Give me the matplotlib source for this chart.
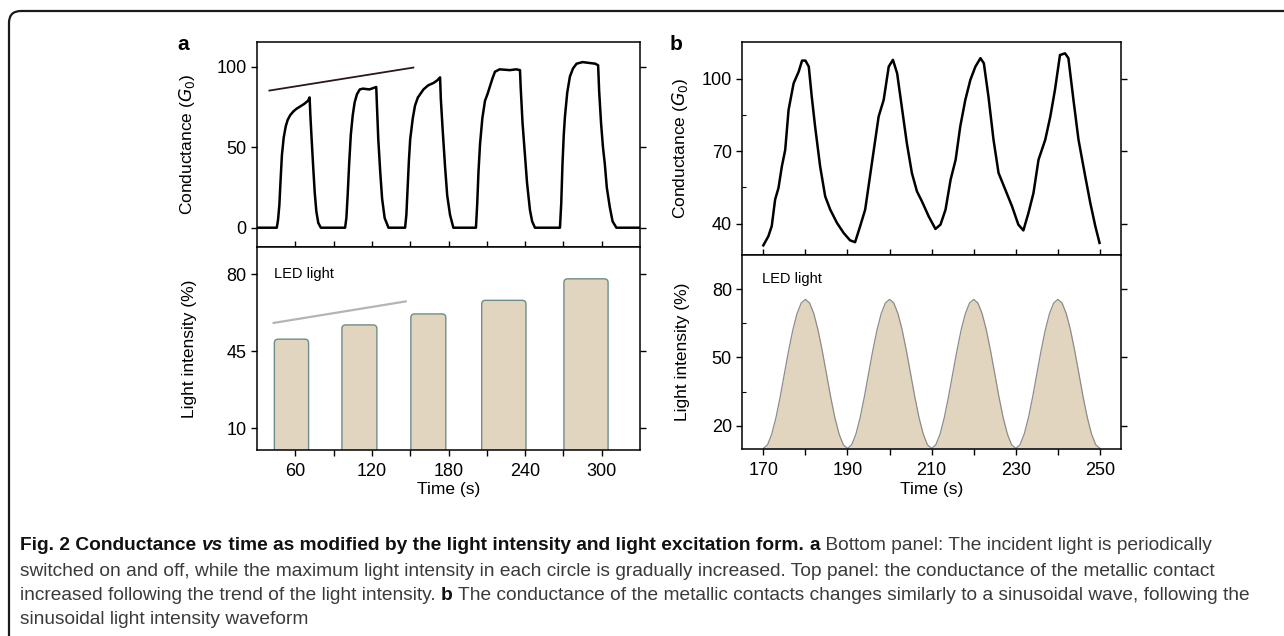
import numpy as np
import matplotlib.pyplot as plt
from matplotlib.patches import FancyBboxPatch, PathPatch
from matplotlib.path import Path
from matplotlib.transforms import IdentityTransform
from matplotlib.ticker import MultipleLocator, FixedLocator

plt.rcParams['font.family'] = ['Liberation Sans', 'DejaVu Sans']

# ---- panel a data ----
# conductance trace (time s, G0)
a_time = [30, 45.5, 46.5, 47.5, 48.5, 49.5, 50.9, 52.5, 54, 56, 58.7, 61, 64, 67, 70, 71.2,
          71.8, 72.8, 74, 75.2, 76.5, 78, 80,
          99, 100, 101, 102.2, 103.5, 105, 106.5, 108.3, 110.5, 113, 118, 123.4,
          124, 125, 126.5, 128, 130, 133,
          146, 147, 148, 149, 150, 152, 153.8, 156, 160.4, 164, 168.2, 171, 173.4,
          174, 175.5, 177.3, 179, 181.2, 183.8,
          201.5, 202.5, 203.5, 204.7, 206.5, 208.6, 210.5, 212.5, 214.5, 216.4, 220, 228, 233, 236,
          236.5, 238, 239.9, 241.5, 243.8, 245.5, 247.7,
          267.3, 268.3, 269.3, 270.3, 271.2, 273, 275.1, 277.5, 280.3, 285, 290, 295, 297.2,
          298, 299.5, 301, 302.4, 304, 306.3, 308.5, 311.5, 330]
a_cond = [0, 0, 5, 14, 30, 45, 56, 63, 67, 70, 72.5, 74, 75.5, 77, 79, 81,
          70, 55, 38, 22, 10, 3, 0,
          0, 6, 20, 40, 58, 70, 78, 83, 86, 86.5, 86, 87.5,
          75, 55, 35, 18, 6, 0,
          0, 8, 25, 42, 55, 68, 76, 81, 86, 88.5, 90, 91.5, 93.5,
          80, 60, 38, 20, 8, 0,
          0, 15, 35, 52, 68, 79, 83, 88, 93, 97, 98.5, 98, 98.5, 98,
          88, 65, 45, 28, 11, 4, 0,
          0, 15, 40, 58, 69, 84, 94, 99, 102, 103, 102.5, 102, 101,
          85, 65, 50, 40, 25, 13, 4, 0, 0]
a_trend_t = [39.7, 152.5]
a_trend_g = [85.3, 99.6]

# LED pulses (start s, end s, intensity %)
bar_start = [43.6, 96.5, 150.5, 206.0, 270.4]
bar_end = [70.4, 123.9, 177.9, 240.7, 305.0]
bar_level = [50.5, 57.0, 62.0, 68.2, 78.0]
led_trend_t = [43, 146.5]
led_trend_i = [57.9, 67.7]

# ---- panel b data ----
b_time = [170, 171.2, 172, 172.8, 173.6, 174.4, 175.2, 176, 177.2, 178.4, 179.2, 180, 180.8,
          181.5, 182.3, 183.5, 184.7, 185.9, 187.5, 189.1, 190.6, 191.8, 193, 194.2, 195.8,
          197.4, 198.6, 199.8, 200.8, 201.8, 203, 204.1, 205.3, 206.5, 207.7, 209.3, 210.9,
          212.1, 213.3, 214.5, 215.7, 216.8, 218, 219.2, 220.4, 221.6, 222.4, 223.5, 224.7,
          225.9, 227.5, 229.1, 230.6, 231.8, 233, 234.2, 235.4, 237, 238.2, 239.3, 240.5,
          241.7, 242.5, 243.7, 244.9, 246.5, 247.7, 248.9, 249.9]
b_cond = [31, 34.8, 39, 50, 54.8, 63.7, 70.6, 87.2, 98.2, 103, 107.6, 107.6, 105.1,
          92.7, 80.3, 63.7, 51.3, 45.8, 40.3, 36.1, 33.1, 32.3, 38.9, 45.8, 65.1,
          84.4, 91.3, 105.1, 107.9, 102.3, 87.2, 73.4, 61, 53.4, 49.2, 43, 37.8,
          39.6, 45.8, 58.2, 66.5, 80.3, 91.3, 99.6, 105.1, 108.6, 106.5, 92.7, 74.8,
          61, 54.1, 47.2, 39.6, 37.2, 44.4, 52.7, 66.5, 74.8, 84.4, 95.4, 109.9,
          110.6, 108.6, 91.3, 74.8, 59.6, 48.6, 38.9, 32]

# one LED cycle (20 s, 1 s steps), repeated four times
led_cycle = [10, 11.6, 16.3, 23.5, 32.6, 42.8, 52.9, 62.0, 69.2, 73.9,
             75.5, 73.9, 69.2, 62.0, 52.9, 42.8, 32.6, 23.5, 16.3, 11.6]
led_t0 = 170
n_cycles = 4

caption = [
    [("Fig. 2 Conductance ", "bold", "normal", "#111111"),
     ("vs", "bold", "italic", "#111111"),
     (" time as modified by the light intensity and light excitation form. ", "bold", "normal", "#111111"),
     ("a", "bold", "normal", "#111111"),
     (" Bottom panel: The incident light is periodically", "normal", "normal", "#3a3a3a")],
    [("switched on and off, while the maximum light intensity in each circle is gradually increased. "
      "Top panel: the conductance of the metallic contact", "normal", "normal", "#3a3a3a")],
    [("increased following the trend of the light intensity. ", "normal", "normal", "#3a3a3a"),
     ("b", "bold", "normal", "#111111"),
     (" The conductance of the metallic contacts changes similarly to a sinusoidal wave, following the",
      "normal", "normal", "#3a3a3a")],
    [("sinusoidal light intensity waveform", "normal", "normal", "#3a3a3a")],
]

fill_col = '#e2d5bf'
W, H = 1284, 636
fig = plt.figure(figsize=(W / 100, H / 100), dpi=100)


def frac(x0, y_top, x1, y_bot):
    return [x0 / W, 1 - y_bot / H, (x1 - x0) / W, (y_bot - y_top) / H]


def style_axes(ax, top_panel):
    for s in ax.spines.values():
        s.set_linewidth(1.1)
    ax.tick_params(axis='y', which='major', direction='out', length=4, width=1.0,
                   labelsize=13, right=True)
    ax.tick_params(axis='y', which='minor', direction='in', length=3, width=0.8,
                   left=True, right=False)
    if top_panel:
        ax.tick_params(axis='x', which='both', direction='in', length=4, width=1.0,
                       labelbottom=False)
    else:
        ax.tick_params(axis='x', which='both', direction='out', length=4, width=1.0,
                       labelsize=13, top=False)


# ---- panel a ----
ax_a1 = fig.add_axes(frac(257, 42, 640, 247))
ax_a2 = fig.add_axes(frac(257, 247, 640, 450))

ax_a1.plot(a_time, a_cond, color='black', lw=1.8)
ax_a1.plot(a_trend_t, a_trend_g, color='#2a1818', lw=1.3)
ax_a1.set_xlim(30, 330)
ax_a1.set_ylim(-12, 115.5)
ax_a1.set_yticks([0, 50, 100])
ax_a1.xaxis.set_major_locator(MultipleLocator(60))
ax_a1.xaxis.set_minor_locator(FixedLocator([90, 150, 210, 270]))
ax_a1.set_ylabel('Conductance ($G_0$)', fontsize=12.5)
style_axes(ax_a1, True)

ax_a2.set_xlim(30, 330)
ax_a2.set_ylim(0, 92.5)
for x0, x1, h in zip(bar_start, bar_end, bar_level):
    box = FancyBboxPatch((x0, -5), x1 - x0, h + 5,
                         boxstyle='round,pad=0,rounding_size=3',
                         mutation_aspect=0.58, facecolor=fill_col,
                         edgecolor='#6f8c8c', lw=1.0, clip_on=True)
    ax_a2.add_patch(box)
ax_a2.plot(led_trend_t, led_trend_i, color='#b4b4b4', lw=1.6)
ax_a2.text(43.6, 80, 'LED light', fontsize=10.5, va='center', ha='left')
ax_a2.set_yticks([10, 45, 80])
ax_a2.set_xticks([60, 120, 180, 240, 300])
ax_a2.xaxis.set_minor_locator(FixedLocator([90, 150, 210, 270]))
ax_a2.set_xlabel('Time (s)', fontsize=12.5, labelpad=2)
ax_a2.set_ylabel('Light intensity (%)', fontsize=12.5)
style_axes(ax_a2, False)
ax_a1.yaxis.set_label_coords(-0.157, 0.5)
ax_a2.yaxis.set_label_coords(-0.157, 0.5)

# ---- panel b ----
ax_b1 = fig.add_axes(frac(742.3, 42, 1121, 255))
ax_b2 = fig.add_axes(frac(742.3, 255, 1121, 449.3))

ax_b1.plot(b_time, b_cond, color='black', lw=1.8)
ax_b1.set_xlim(165, 255)
ax_b1.set_ylim(27, 115.3)
ax_b1.set_yticks([40, 70, 100])
ax_b1.yaxis.set_minor_locator(FixedLocator([55, 85]))
ax_b1.xaxis.set_major_locator(MultipleLocator(20, offset=10))
ax_b1.xaxis.set_minor_locator(FixedLocator([180, 200, 220, 240]))
ax_b1.set_ylabel('Conductance ($G_0$)', fontsize=12.5)
style_axes(ax_b1, True)

led_t = led_t0 + np.arange(n_cycles * len(led_cycle) + 1)
led_i = np.array(led_cycle * n_cycles + [led_cycle[0]])
ax_b2.set_xlim(165, 255)
ax_b2.set_ylim(9.6, 95)
ax_b2.fill_between(led_t, 9.6, led_i, color=fill_col, lw=0)
ax_b2.plot(led_t, led_i, color='#8c8c8c', lw=0.9)
ax_b2.text(169.7, 84.5, 'LED light', fontsize=10.5, va='center', ha='left')
ax_b2.set_yticks([20, 50, 80])
ax_b2.yaxis.set_minor_locator(FixedLocator([35, 65]))
ax_b2.set_xticks([170, 190, 210, 230, 250])
ax_b2.xaxis.set_minor_locator(FixedLocator([180, 200, 220, 240]))
ax_b2.set_xlabel('Time (s)', fontsize=12.5, labelpad=2)
ax_b2.set_ylabel('Light intensity (%)', fontsize=12.5)
style_axes(ax_b2, False)
ax_b1.yaxis.set_label_coords(-0.138, 0.5)
ax_b2.yaxis.set_label_coords(-0.138, 0.5)

for ax in (ax_a2, ax_b2):
    ax.tick_params(axis='x', which='major', pad=5)

fig.text(183 / W, 1 - 45 / H, 'a', fontsize=15, fontweight='bold', ha='center', va='center')
fig.text(676 / W, 1 - 45 / H, 'b', fontsize=15, fontweight='bold', ha='center', va='center')

# ---- outer frame: left and top edges with one rounded corner ----
fx, fy, r = 9, H - 11, 12
frame_path = Path([(fx, -10), (fx, fy - r), (fx, fy), (fx + r, fy), (W + 10, fy)],
                  [Path.MOVETO, Path.LINETO, Path.CURVE3, Path.CURVE3, Path.LINETO])
fig.patches.append(PathPatch(frame_path, transform=IdentityTransform(),
                             facecolor='none', edgecolor='#1a1a1a', lw=1.6))

# ---- caption ----
renderer = fig.canvas.get_renderer()
line_y = [546, 571, 596, 620]
for segs, ly in zip(caption, line_y):
    x = 20
    for txt, wt, st, col in segs:
        t = fig.text(x / W, 1 - ly / H, txt, fontsize=13.8, fontweight=wt, fontstyle=st,
                     color=col, va='center', ha='left')
        x = t.get_window_extent(renderer).x1

fig.savefig('out.png', dpi=100)
